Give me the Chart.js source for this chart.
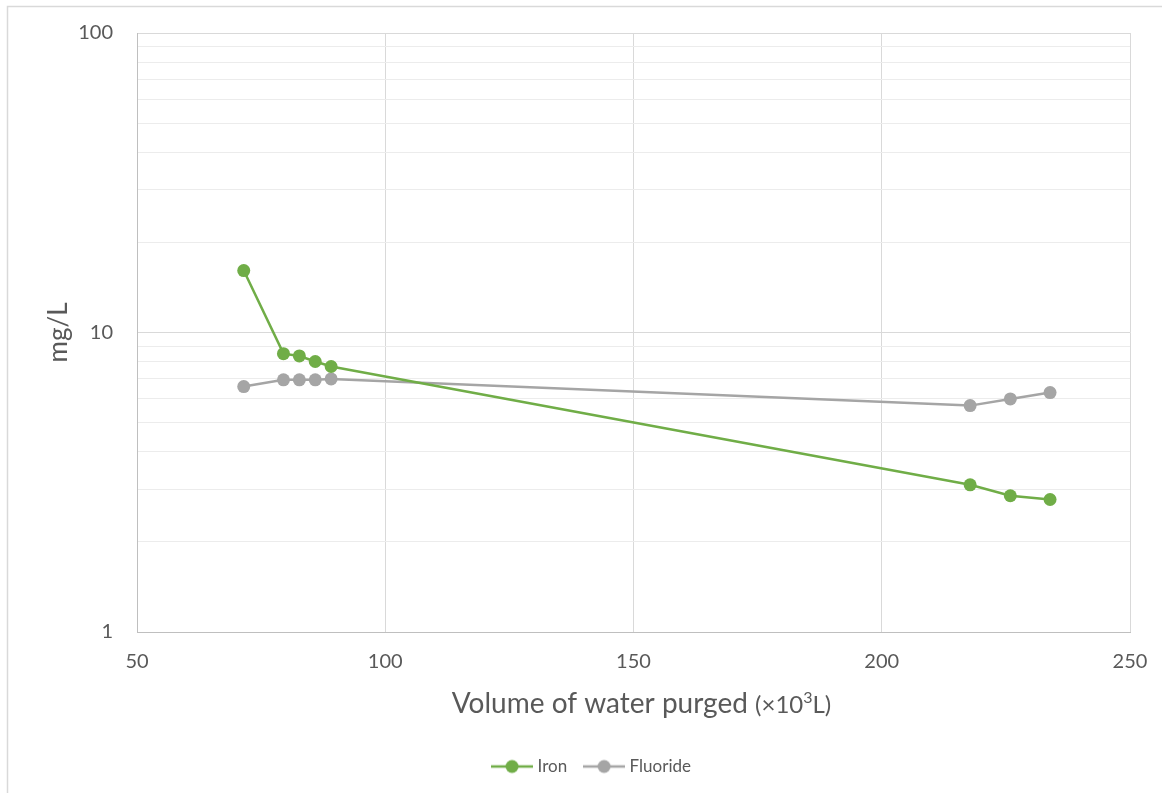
<!DOCTYPE html>
<html>
<head>
<meta charset="utf-8">
<script src="https://cdn.jsdelivr.net/npm/chart.js@4.4.0/dist/chart.umd.min.js"></script>
<style>
  html, body { margin: 0; padding: 0; background: #fff; }
  #wrap { width: 1162px; height: 793px; position: relative; }
</style>
</head>
<body>
<div id="wrap"><canvas id="purgeChart"></canvas></div>
<script>
// values
const volumes = [71.5, 79.5, 82.7, 85.9, 89.1, 217.8, 225.9, 233.9];
const iron = [16.1, 8.5, 8.35, 8.0, 7.7, 3.1, 2.85, 2.77];
const fluoride = [6.6, 6.95, 6.95, 6.95, 7.0, 5.7, 6.0, 6.3];
const seriesNames = ['Iron', 'Fluoride'];
const xTicks = [50, 100, 150, 200, 250];
const yMajorTicks = [1, 10, 100];
const yMinorTicks = [2, 3, 4, 5, 6, 7, 8, 9, 20, 30, 40, 50, 60, 70, 80, 90];
const yTitle = 'mg/L';
const xTitle = 'Volume of water purged ';
const xTitleUnit = ['(×10', '3', 'L)'];

const ironColor = '#70ad47';
const fluorideColor = '#a5a5a5';
const textColor = '#595959';
const fontFamily = 'Lato, "Open Sans", sans-serif';
const plotBottom = 632;
const layoutBottom = 8;

Chart.defaults.font.family = fontFamily;
Chart.defaults.color = textColor;

// little line + dot icon for the legend, like the office style
function legendIcon(color) {
  const c = document.createElement('canvas');
  c.width = 42;
  c.height = 16;
  const g = c.getContext('2d');
  g.strokeStyle = color;
  g.lineWidth = 2.5;
  g.beginPath();
  g.moveTo(0, 8);
  g.lineTo(42, 8);
  g.stroke();
  g.fillStyle = color;
  g.beginPath();
  g.arc(21, 8, 6.5, 0, Math.PI * 2);
  g.fill();
  return c;
}

const frame = {
  id: 'frame',
  beforeDraw(chart) {
    const ctx = chart.ctx;
    ctx.save();
    ctx.fillStyle = '#fff';
    ctx.fillRect(0, 0, chart.width, chart.height);
    ctx.strokeStyle = '#d9d9d9';
    ctx.lineWidth = 1.5;
    ctx.strokeRect(7.5, 6.5, chart.width, chart.height);
    ctx.restore();
  },
  afterLayout(chart) {
    // legend sits a bit right of centre in the reference
    chart.legend.left += 28;
    chart.legend.right += 28;
  },
};

// x title has a smaller unit part with a superscript
const xTitlePlugin = {
  id: 'xTitle',
  afterDraw(chart) {
    const ctx = chart.ctx;
    const area = chart.chartArea;
    const parts = [
      { text: xTitle, size: 28, dy: 0 },
      { text: xTitleUnit[0], size: 24, dy: 0 },
      { text: xTitleUnit[1], size: 16, dy: -10 },
      { text: xTitleUnit[2], size: 24, dy: 0 },
    ];
    ctx.save();
    ctx.fillStyle = textColor;
    ctx.textBaseline = 'alphabetic';
    ctx.textAlign = 'left';
    let total = 0;
    parts.forEach((p) => {
      ctx.font = `${p.size}px ${fontFamily}`;
      p.w = ctx.measureText(p.text).width;
      total += p.w;
    });
    let x = (area.left + area.right) / 2 - total / 2 + 8;
    const baseY = 713;
    parts.forEach((p) => {
      ctx.font = `${p.size}px ${fontFamily}`;
      ctx.fillText(p.text, x, baseY + p.dy);
      x += p.w;
    });
    ctx.restore();
  },
};

function toPoints(ys) {
  return volumes.map((v, i) => ({ x: v, y: ys[i] }));
}

function setupChart() {
  const chart = document.getElementById('purgeChart');
  const context = chart.getContext('2d');
  const icons = [legendIcon(ironColor), legendIcon(fluorideColor)];

  new Chart(context, {
    type: 'line',
    data: {
      datasets: [
        {
          label: seriesNames[0],
          data: toPoints(iron),
          borderColor: ironColor,
          backgroundColor: ironColor,
          borderWidth: 2.5,
          pointRadius: 6.5,
          pointBorderWidth: 0,
          pointBackgroundColor: ironColor,
        },
        {
          label: seriesNames[1],
          data: toPoints(fluoride),
          borderColor: fluorideColor,
          backgroundColor: fluorideColor,
          borderWidth: 2.5,
          pointRadius: 6.5,
          pointBorderWidth: 0,
          pointBackgroundColor: fluorideColor,
        },
      ],
    },
    options: {
      responsive: true,
      maintainAspectRatio: false,
      animation: false,
      layout: {
        padding: { top: 33, right: 32, bottom: layoutBottom, left: 0 },
      },
      plugins: {
        tooltip: { enabled: false },
        legend: {
          position: 'bottom',
          labels: {
            usePointStyle: true,
            pointStyleWidth: 34,
            padding: 20,
            color: textColor,
            font: { size: 17 },
            generateLabels: (c) =>
              Chart.defaults.plugins.legend.labels.generateLabels(c).map((item, i) => {
                item.pointStyle = icons[i];
                return item;
              }),
          },
        },
      },
      scales: {
        x: {
          type: 'linear',
          min: 50,
          max: 250,
          afterBuildTicks: (scale) => {
            scale.ticks = xTicks.map((v) => ({ value: v }));
          },
          afterFit: (scale) => {
            scale.height = scale.chart.height - layoutBottom - scale.chart.legend.height - plotBottom;
          },
          // gap below the axis comes from invisible tick marks, so the padding does not grow the layout
          ticks: { padding: 0, color: textColor, font: { size: 20 } },
          grid: { drawTicks: true, tickLength: 18, tickColor: 'rgba(0,0,0,0)', color: '#d9d9d9' },
          border: { color: '#bfbfbf' },
        },
        y: {
          type: 'logarithmic',
          min: 1,
          max: 100,
          afterBuildTicks: (scale) => {
            scale.ticks = [...yMajorTicks, ...yMinorTicks].sort((a, b) => a - b).map((v) => ({ value: v }));
          },
          afterFit: (scale) => {
            scale.width = 137;
          },
          ticks: {
            autoSkip: false,
            padding: 0,
            color: textColor,
            font: { size: 20 },
            callback: (v) => (yMajorTicks.includes(v) ? String(v) : ''),
          },
          grid: {
            drawTicks: true,
            tickLength: 24,
            tickColor: 'rgba(0,0,0,0)',
            color: (ctx) => (ctx.tick && yMajorTicks.includes(ctx.tick.value) ? '#d9d9d9' : '#ececec'),
          },
          border: { color: '#bfbfbf' },
          title: {
            display: true,
            text: yTitle,
            color: textColor,
            font: { size: 26 },
            padding: { top: 43, bottom: 0 },
          },
        },
      },
    },
    plugins: [frame, xTitlePlugin],
  });
}

setupChart();
</script>
</body>
</html>
